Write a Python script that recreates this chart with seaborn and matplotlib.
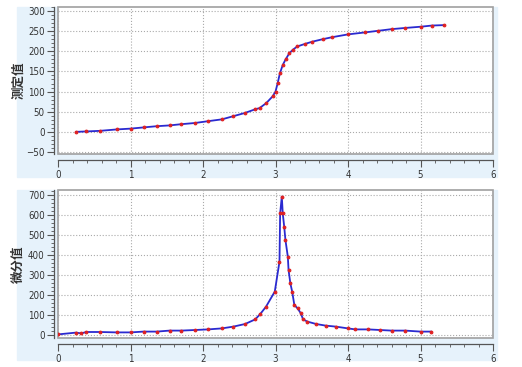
import seaborn as sns
import matplotlib.pyplot as plt
from matplotlib.patches import Rectangle
from matplotlib.ticker import MultipleLocator, AutoMinorLocator

# measured titration curve (测定值)
vol_top = [0.25, 0.39, 0.58, 0.81, 1.0, 1.18, 1.36, 1.54, 1.7, 1.89, 2.07, 2.26,
           2.42, 2.58, 2.72, 2.78, 2.87, 2.96, 3.0, 3.03, 3.06, 3.1, 3.14, 3.19,
           3.24, 3.3, 3.4, 3.51, 3.65, 3.78, 4.0, 4.24, 4.42, 4.6, 4.79, 5.0,
           5.16, 5.32]
measured = [0, 1, 2.5, 6, 8, 11, 14, 16, 19, 22, 26.5, 31,
            39, 47, 56, 59, 71, 88, 100, 121, 145, 166, 180, 195,
            204, 212, 218, 224, 230, 235, 242, 247, 251, 255, 258, 261,
            264, 265]

# derivative curve (微分值)
vol_bot = [0.0, 0.25, 0.32, 0.39, 0.58, 0.81, 1.0, 1.18, 1.36, 1.54, 1.7, 1.89,
           2.07, 2.26, 2.42, 2.58, 2.72, 2.79, 2.87, 2.99, 3.055, 3.064, 3.087,
           3.1, 3.12, 3.137, 3.17, 3.18, 3.205, 3.23, 3.26, 3.305, 3.35, 3.38,
           3.44, 3.56, 3.69, 3.83, 4.0, 4.1, 4.28, 4.44, 4.6, 4.79, 5.0, 5.15]
deriv = [3, 12, 8, 15, 15, 13, 13, 17, 17, 22, 22, 25,
         28, 33, 42, 55, 78, 105, 142, 217, 367, 608, 692,
         608, 542, 475, 392, 325, 258, 217, 150, 133, 108, 78,
         67, 55, 47, 42, 33, 28, 28, 25, 22, 22, 17, 17]

sns.set_style("white")
plt.rcParams['font.family'] = ['DejaVu Sans']
plt.rcParams['font.stretch'] = 'condensed'

fig = plt.figure(figsize=(5.22, 3.67), dpi=100)
W, H = 522, 367
panel = '#e6f2fb'

# light blue panels behind each chart
fig.patches.append(Rectangle((17 / W, 1 - 177 / H), 480 / W, 170 / H,
                             transform=fig.transFigure, color=panel, zorder=-5))
fig.patches.append(Rectangle((17 / W, 1 - 360 / H), 480 / W, 170 / H,
                             transform=fig.transFigure, color=panel, zorder=-5))

ax1 = fig.add_axes([58 / W, 1 - 154 / H, 435 / W, 147 / H])
ax2 = fig.add_axes([58 / W, 1 - 338 / H, 435 / W, 148 / H])

for ax, x, y, ylim, major, minor, label in [
        (ax1, vol_top, measured, (-55, 310), 50, 5, '测定值'),
        (ax2, vol_bot, deriv, (-15, 725), 100, 5, '微分值')]:
    ax.set_zorder(2)
    ax.set_facecolor('white')
    sns.lineplot(x=x, y=y, ax=ax, color='#2a2ad0', linewidth=1.3, sort=False,
                 marker='o', markersize=2.0, markerfacecolor='#e02020',
                 markeredgecolor='#e02020')
    ax.set_xlim(0, 6)
    ax.set_ylim(*ylim)
    ax.xaxis.set_major_locator(MultipleLocator(1))
    ax.xaxis.set_minor_locator(AutoMinorLocator(5))
    ax.yaxis.set_major_locator(MultipleLocator(major))
    ax.yaxis.set_minor_locator(AutoMinorLocator(minor))
    ax.grid(True, which='major', color='#aaaaaa', linestyle=':', linewidth=0.8)
    ax.patch.set_edgecolor('#a0a0a0')
    ax.patch.set_linewidth(1.2)
    ax.spines['top'].set_visible(False)
    ax.spines['right'].set_visible(False)
    ax.spines['left'].set_position(('outward', 3))
    ax.spines['bottom'].set_position(('outward', 4))
    for s in ['left', 'bottom']:
        ax.spines[s].set_color('#555555')
        ax.spines[s].set_linewidth(0.9)
    ax.tick_params(which='major', direction='out', length=5, width=0.8,
                   color='#555555', labelsize=7, labelcolor='#333333', pad=1.5,
                   left=True, bottom=True)
    ax.tick_params(which='minor', direction='out', length=2.5, width=0.6,
                   color='#555555', left=True, bottom=True)
    ax.tick_params(axis='x', pad=2.5)
    ax.set_ylabel(label, family=['Noto Sans CJK SC', 'DejaVu Sans'],
                  fontsize=9, color='#333333', fontweight='bold')
    ax.yaxis.set_label_coords((25 - 58) / 435, 0.5)
    ax.set_xlabel('')

fig.savefig('out.png', dpi=100, facecolor='white')
